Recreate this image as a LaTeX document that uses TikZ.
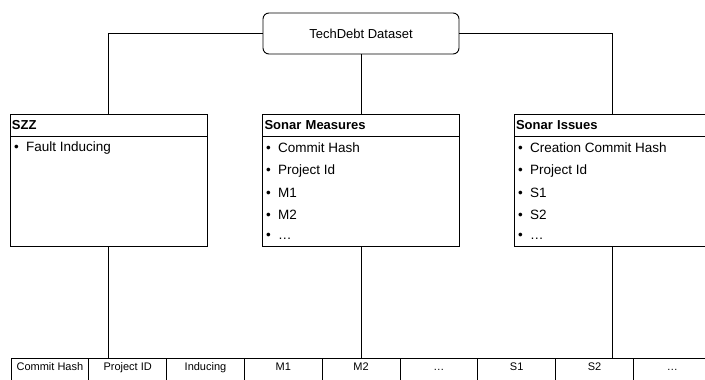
\documentclass[tikz,border=0pt]{standalone}
\usepackage{fontspec}
\setmainfont{Liberation Sans}
\usetikzlibrary{positioning}

\newcommand{\itembul}{\makebox[12pt][l]{\textbullet}}

\begin{document}
\begin{tikzpicture}[x=1pt, y=-1pt,
    rootbox/.style={draw, line width=0.9pt, rounded corners=6pt, minimum width=196pt, minimum height=41pt, font=\fontsize{13}{15}\selectfont},
    headbox/.style={draw, line width=0.9pt, outer sep=0pt, inner xsep=2pt, text width=193pt, minimum height=22pt, align=left, font=\bfseries\fontsize{13}{15}\selectfont},
    bodybox/.style={draw, line width=0.9pt, outer sep=0pt, minimum width=197pt, minimum height=110.5pt},
    item/.style={anchor=west, inner sep=0pt, font=\fontsize{13.5}{16}\selectfont},
    cell/.style={draw, line width=0.9pt, anchor=north, minimum width=77.8pt, inner ysep=3pt, text height=9pt, text depth=31pt, font=\fontsize{11}{13}\selectfont},
    link/.style={draw, line width=0.9pt}]
  \useasboundingbox (0,0) rectangle (705,380);

  % dataset root
  \node[rootbox] (data) at (361, 33.5) {TechDebt Dataset};

  % the three sources
  \node[headbox] (szzhead)  at (108.5, 125) {SZZ};
  \node[headbox] (meashead) at (361.0, 125) {Sonar Measures};
  \node[headbox] (isshead)  at (612.5, 125) {Sonar Issues};

  \node[bodybox, below=0pt of szzhead]  (szzbody)  {};
  \node[bodybox, below=0pt of meashead] (measbody) {};
  \node[bodybox, below=0pt of isshead]  (issbody)  {};

  \node[item] (szzi1)  at ( 14, 148) {\itembul Fault Inducing};

  \node[item] (measi1) at (266, 148) {\itembul Commit Hash};
  \node[item] (measi2) at (266, 171) {\itembul Project Id};
  \node[item] (measi3) at (266, 193) {\itembul M1};
  \node[item] (measi4) at (266, 215) {\itembul M2};
  \node[item] (measi5) at (266, 236) {\itembul \dots};

  \node[item] (issi1)  at (518, 148) {\itembul Creation Commit Hash};
  \node[item] (issi2)  at (518, 171) {\itembul Project Id};
  \node[item] (issi3)  at (518, 193) {\itembul S1};
  \node[item] (issi4)  at (518, 215) {\itembul S2};
  \node[item] (issi5)  at (518, 236) {\itembul \dots};

  % joined table
  \node[cell] (c1) at ( 49.9, 358) {Commit Hash};
  \node[cell] (c2) at (127.7, 358) {Project ID};
  \node[cell] (c3) at (205.5, 358) {Inducing};
  \node[cell] (c4) at (283.3, 358) {M1};
  \node[cell] (c5) at (361.1, 358) {M2};
  \node[cell] (c6) at (438.9, 358) {\dots};
  \node[cell] (c7) at (516.7, 358) {S1};
  \node[cell] (c8) at (594.5, 358) {S2};
  \node[cell] (c9) at (672.3, 358) {\dots};

  % tree links
  \draw[link] (data.west)  -| (szzhead.north);
  \draw[link] (data.east)  -| (isshead.north);
  \draw[link] (data.south) -- (meashead.north);
  \draw[link] (szzbody.south)  -- (szzbody.south  |- c2.north);
  \draw[link] (measbody.south) -- (measbody.south |- c5.north);
  \draw[link] (issbody.south)  -- (issbody.south  |- c8.north);
\end{tikzpicture}
\end{document}
